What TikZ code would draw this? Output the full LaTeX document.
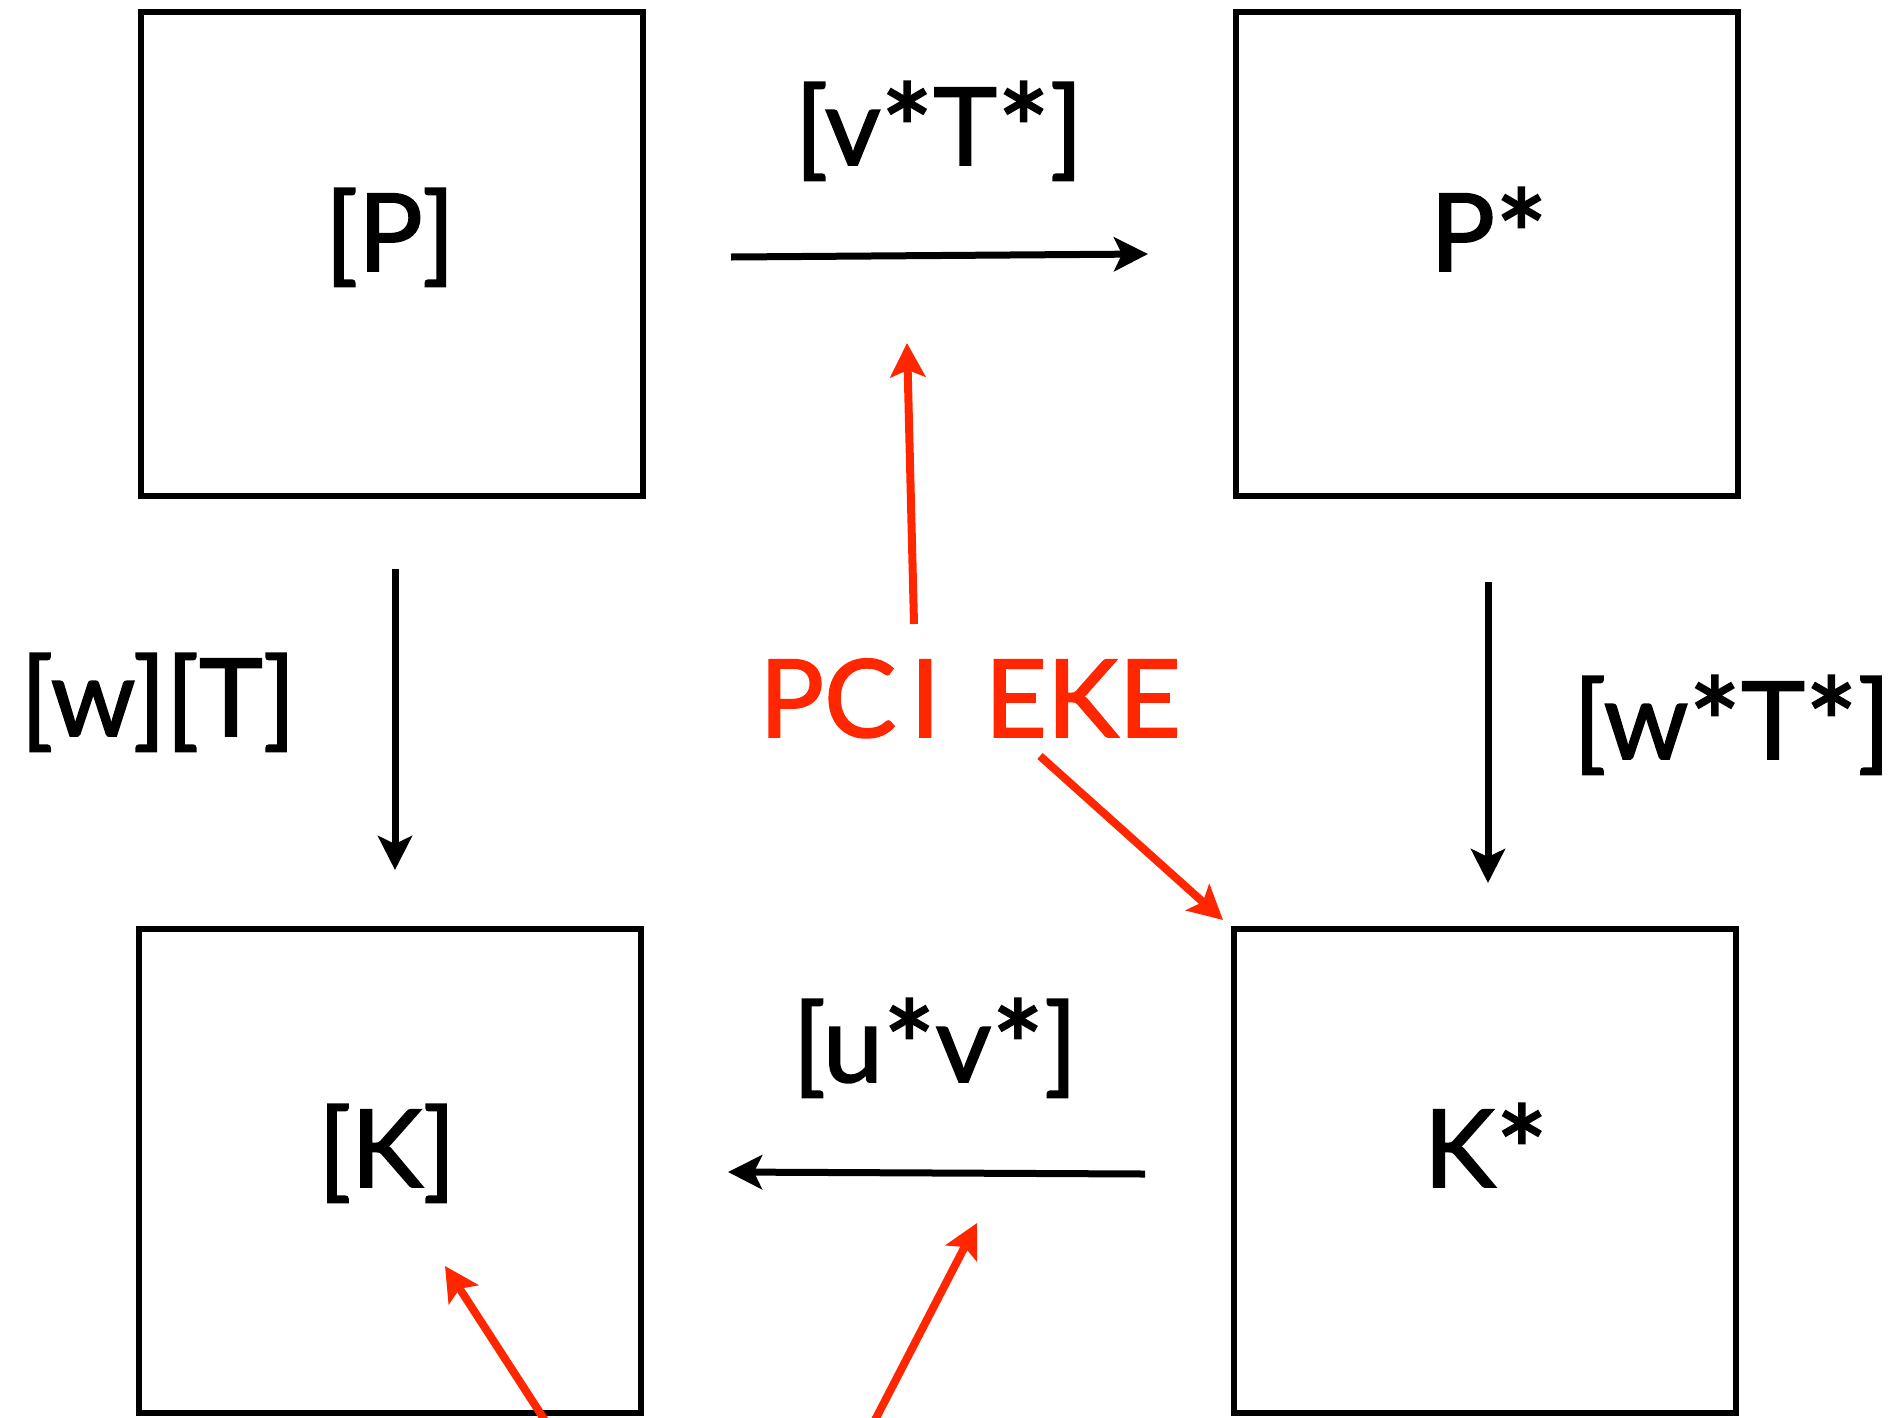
\documentclass[tikz,border=0pt]{standalone}
\usepackage{fontspec}
\usepackage{graphicx}
\setmainfont{Lato}
\newfontfamily\gfont[FakeBold=1.6]{Lato}
\usetikzlibrary{arrows.meta}
\definecolor{kred}{RGB}{255,38,0}
\newcommand\astk{\raisebox{-10pt}{\scalebox{1.15}{*}}}
\tikzset{
  box/.style={draw=black, line width=6pt, minimum width=502pt, minimum height=484pt, inner sep=0pt},
  lbl/.style={anchor=base, inner sep=0pt, font=\gfont\fontsize{108}{108}\selectfont},
  blk/.style={draw=black, line width=7pt, -{Stealth[length=34pt,width=34pt,inset=8pt]}},
  redarr/.style={draw=kred, line width=8pt, -{Stealth[length=34pt,width=35pt,inset=7pt]}},
}
\begin{document}
\begin{tikzpicture}[x=1pt,y=-1pt]
\useasboundingbox (0,0) rectangle (1894,1417);
% boxes
\node[box] (Pbox)  at (392,254)  {};
\node[box] (Psbox) at (1487,254) {};
\node[box] (Kbox)  at (390,1171) {};
\node[box] (Ksbox) at (1485,1171) {};
% box labels
\node[lbl] (Pl)  at (390,271)  {[P]};
\node[lbl] (Psl) at (1489,271) {P\astk};
\node[lbl] (Kl)  at (387,1187) {[K]};
\node[lbl] (Ksl) at (1486,1187) {K\astk};
% edge labels
\node[lbl] (vT)  at (939,165)  {[v\astk T\astk]};
\node[lbl] (wT)  at (158,736)  {[w][T]};
\node[lbl] (wsT) at (1732,759) {[w\astk T\astk]};
\node[lbl] (uv)  at (935,1082) {[u\astk v\astk]};
\node[lbl, text=kred] (pci) at (970,737) {PC\hspace{14pt}I\hspace{44pt}EKE};
% coordinates for arrows
\coordinate (a1s) at (731,257);  \coordinate (a1e) at (1148,254);
\coordinate (a2s) at (395,569);  \coordinate (a2e) at (395,870);
\coordinate (a3s) at (1488,582); \coordinate (a3e) at (1488,883);
\coordinate (a4s) at (1145,1174);\coordinate (a4e) at (728,1172);
\coordinate (r1s) at (914,624);  \coordinate (r1e) at (907,343);
\coordinate (r2s) at (1040,756); \coordinate (r2e) at (1223,920);
\coordinate (r3s) at (546,1422); \coordinate (r3e) at (445,1266);
\coordinate (r4s) at (874,1422); \coordinate (r4e) at (977,1223);
% black arrows
\draw[blk] (a1s) -- (a1e);
\draw[blk] (a2s) -- (a2e);
\draw[blk] (a3s) -- (a3e);
\draw[blk] (a4s) -- (a4e);
% red arrows
\draw[redarr] (r1s) -- (r1e);
\draw[redarr] (r2s) -- (r2e);
\draw[redarr] (r3s) -- (r3e);
\draw[redarr] (r4s) -- (r4e);
\end{tikzpicture}
\end{document}
